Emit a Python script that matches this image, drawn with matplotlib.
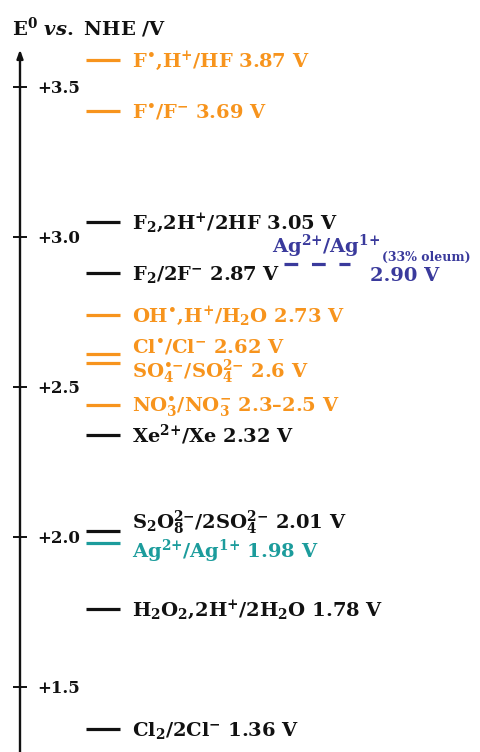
import matplotlib
matplotlib.use('Agg')
import matplotlib.pyplot as plt

plt.rcParams['font.family'] = ['DejaVu Serif']
plt.rcParams['font.weight'] = 'bold'
plt.rcParams['mathtext.fontset'] = 'custom'
plt.rcParams['mathtext.rm'] = 'DejaVu Serif:bold'
plt.rcParams['mathtext.it'] = 'DejaVu Serif:italic:bold'
plt.rcParams['mathtext.bf'] = 'DejaVu Serif:bold'

ORANGE = '#f7941d'
BLACK  = '#111111'
TEAL   = '#1c9c9c'
BLUE   = '#3a3a9c'

# level positions on the drawn scale and their labels
level_y = [3.59, 3.42, 3.05, 2.88, 2.74, 2.61, 2.58, 2.44, 2.34, 2.02, 1.98, 1.76, 1.36]
level_labels = [
    r'F$^{•}$,H$^{+}$/HF 3.87 V',
    r'F$^{•}$/F$^{-}$ 3.69 V',
    r'F$_{2}$,2H$^{+}$/2HF 3.05 V',
    r'F$_{2}$/2F$^{-}$ 2.87 V',
    r'OH$^{•}$,H$^{+}$/H$_{2}$O 2.73 V',
    r'Cl$^{•}$/Cl$^{-}$ 2.62 V',
    r'SO$_{4}^{•{-}}$/SO$_{4}^{2{-}}$ 2.6 V',
    r'NO$_{3}^{•}$/NO$_{3}^{-}$ 2.3–2.5 V',
    r'Xe$^{2{+}}$/Xe 2.32 V',
    r'S$_{2}$O$_{8}^{2{-}}$/2SO$_{4}^{2{-}}$ 2.01 V',
    r'Ag$^{2{+}}$/Ag$^{1{+}}$ 1.98 V',
    r'H$_{2}$O$_{2}$,2H$^{+}$/2H$_{2}$O 1.78 V',
    r'Cl$_{2}$/2Cl$^{-}$ 1.36 V',
]
level_colors = [ORANGE, ORANGE, BLACK, BLACK, ORANGE, ORANGE, ORANGE, ORANGE,
                BLACK, BLACK, TEAL, BLACK, BLACK]
# vertical nudge of the label (pixels, up is positive) where two levels sit close
label_shift = [0, 0, 0, 0, 0, 8, -8, 0, 0, 9, -8, 0, 0]

oleum_y = 2.91
oleum_label = r'Ag$^{2{+}}$/Ag$^{1{+}}$'
oleum_note = '(33% oleum)'
oleum_value = '2.90 V'

tick_vals = [1.5, 2.0, 2.5, 3.0, 3.5]
tick_labels = ['+1.5', '+2.0', '+2.5', '+3.0', '+3.5']

W, H, DPI = 480, 752, 100
V_PER_PX = 1 / 300.0
y_top = 3.79
y_bot = y_top - H * V_PER_PX
FS = 14


def pt(px):
    return px * 72.0 / DPI


fig = plt.figure(figsize=(W / DPI, H / DPI), dpi=DPI)
ax = fig.add_axes([0, 0, 1, 1])
ax.set_xlim(0, W)
ax.set_ylim(y_bot, y_top)
ax.set_axis_off()

# vertical axis with arrow
ax.annotate('', xy=(20, 3.625), xytext=(20, y_bot - 0.05),
            arrowprops=dict(arrowstyle='-|>,head_length=0.5,head_width=0.18',
                            color=BLACK, lw=1.7, shrinkA=0, shrinkB=0))
for v, lab in zip(tick_vals, tick_labels):
    ax.plot([13, 27], [v, v], color=BLACK, lw=1.4, solid_capstyle='butt')
    ax.annotate(lab, xy=(37, v), xytext=(0, pt(-6)), textcoords='offset points',
                ha='left', va='baseline', fontsize=12, color=BLACK)

ax.text(12, y_top - 35 * V_PER_PX, r'E$^{0}$ $vs.$ NHE /V', ha='left',
        va='baseline', fontsize=FS, color=BLACK)

for y, lab, c, s in zip(level_y, level_labels, level_colors, label_shift):
    ax.plot([86, 120], [y, y], color=c, lw=2.3, solid_capstyle='butt')
    ax.annotate(lab, xy=(132, y), xytext=(0, pt(s - 7)), textcoords='offset points',
                ha='left', va='baseline', fontsize=FS, color=c)

# Ag(II)/Ag(I) in oleum, dashed level
ln, = ax.plot([284, 350], [oleum_y, oleum_y], color=BLUE, lw=2.3, solid_capstyle='butt')
ln.set_dashes([4.3, 4.3])
ln.set_dash_capstyle('butt')
ax.annotate(oleum_label, xy=(272, oleum_y), xytext=(0, pt(11)), textcoords='offset points',
            ha='left', va='baseline', fontsize=FS, color=BLUE)
ax.annotate(oleum_note, xy=(382, oleum_y), xytext=(0, pt(3)), textcoords='offset points',
            ha='left', va='baseline', fontsize=9, color=BLUE)
ax.annotate(oleum_value, xy=(370, oleum_y), xytext=(0, pt(-17)), textcoords='offset points',
            ha='left', va='baseline', fontsize=FS, color=BLUE)

fig.savefig('out.png', dpi=DPI)
